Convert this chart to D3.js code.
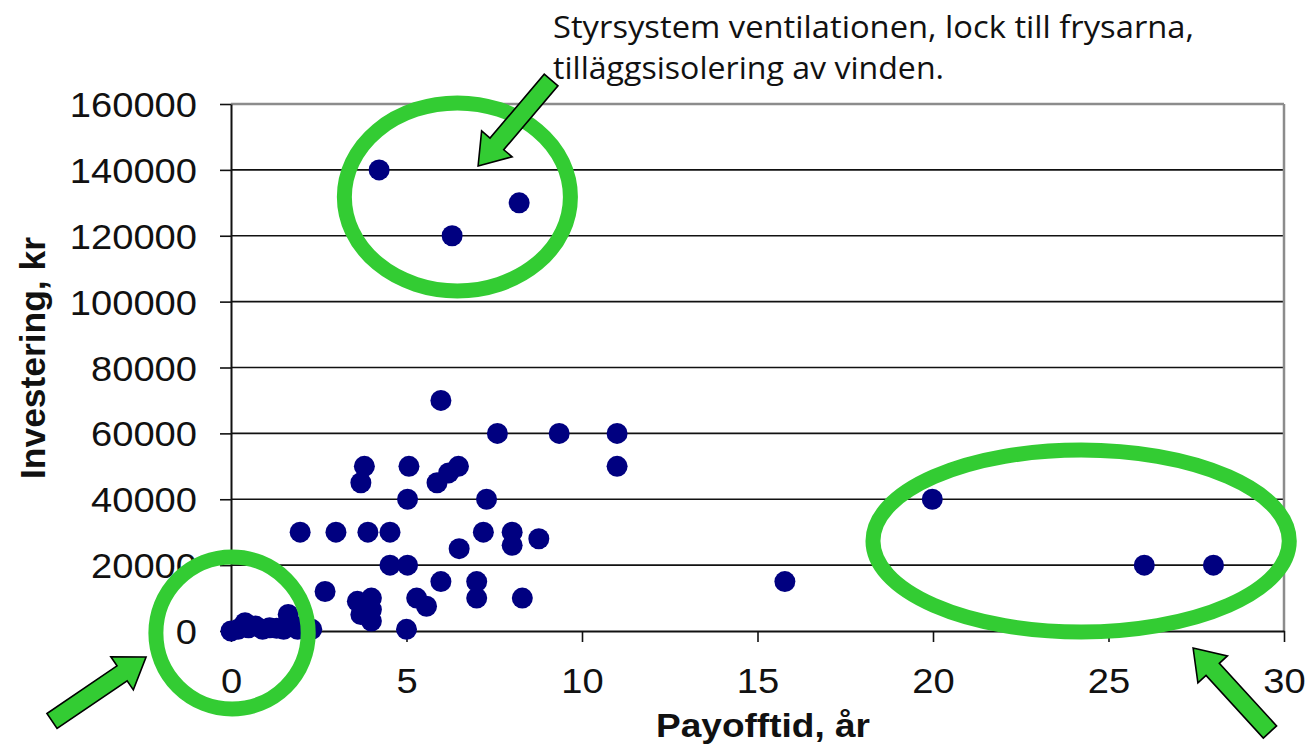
<!DOCTYPE html>
<html><head><meta charset="utf-8">
<script src="https://cdn.jsdelivr.net/npm/d3@7"></script>
<style>html,body{margin:0;padding:0;background:#fff;}</style>
</head><body>
<svg id="c" width="1305" height="746"></svg>
<script>
// ---- data ----
const payoff = [0,0.2,0.4,0.5,0.7,0.9,1.1,1.3,1.5,1.63,1.8,1.9,2.3,
  1.97,2.99,3.9,4.53,2.68,3.6,3.7,4.0,4.0,4.0,4.53,5.03,5.0,5.29,5.57,5.98,
  5.07,5.03,3.8,3.7,5.98,5.87,6.2,6.48,7.59,9.35,11.0,11.0,7.28,7.19,8.01,8.01,8.77,6.5,
  7.0,7.0,8.3,15.78,19.98,26.02,27.99,4.22,6.3,8.21];
const invest = [0,500,2500,1000,1500,500,1000,800,500,5000,1500,500,500,
  30000,30000,30000,30000,12000,9000,5000,10000,6500,3000,20000,20000,500,10000,7500,15000,
  50000,40000,50000,45000,70000,45000,48000,50000,60000,60000,60000,50000,40000,30000,30000,26000,28000,25000,
  15000,10000,10000,15000,40000,20000,20000,140000,120000,130000];
const xTicks = [0,5,10,15,20,25,30];
const yTicks = [0,20000,40000,60000,80000,100000,120000,140000,160000];
const xTitle = "Payofftid, år";
const yTitle = "Investering, kr";
const noteLines = ["Styrsystem ventilationen, lock till frysarna,", "tilläggsisolering av vinden."];
// annotation shapes in data units
const ellipseCx = [6.45, 0.03, 24.22];
const ellipseCy = [131800, -600, 27320];
const ellipseRx = [3.22, 2.17, 5.93];
const ellipseRy = [28540, 23070, 27630];
const arrowTipX = [7.04, -2.42, 27.41];
const arrowTipY = [141170, -7890, -5160];
const arrowTailX = [9.12, -5.10, 29.6];
const arrowTailY = [167280, -27320, -30660];

// ---- layout ----
const L = 231, R = 1284, T = 104, B = 631;
const svg = d3.select("#c");
const x = d3.scaleLinear().domain([0,30]).range([L,R]);
const y = d3.scaleLinear().domain([0,160000]).range([B,T]);
const font = "'Liberation Sans', Arial, sans-serif";

// gridlines
svg.append("g").selectAll("line").data(yTicks.filter(d=>d>0 && d<160000)).join("line")
  .attr("x1",L).attr("x2",R).attr("y1",d=>y(d)).attr("y2",d=>y(d))
  .attr("stroke","#111").attr("stroke-width",1.6);
// top and right border (gray)
svg.append("line").attr("x1",L).attr("x2",R).attr("y1",y(160000)).attr("y2",y(160000))
  .attr("stroke","#8c8c8c").attr("stroke-width",2.5);
svg.append("line").attr("x1",R).attr("x2",R).attr("y1",T).attr("y2",B)
  .attr("stroke","#8c8c8c").attr("stroke-width",2.5);

// axes
const xAxis = svg.append("g").attr("transform",`translate(0,${B})`)
  .call(d3.axisBottom(x).tickValues(xTicks).tickSize(11).tickSizeOuter(0).tickFormat(d3.format("d")));
const yAxis = svg.append("g").attr("transform",`translate(${L},0)`)
  .call(d3.axisLeft(y).tickValues(yTicks).tickSize(11).tickSizeOuter(0).tickFormat(d3.format("d")));
[xAxis,yAxis].forEach(a=>{
  a.select(".domain").attr("stroke","#111").attr("stroke-width",2);
  a.selectAll(".tick line").attr("stroke","#111").attr("stroke-width",1.6);
  a.selectAll(".tick text").attr("fill","#111").style("font-family",font).style("font-size","35px")
    .attr("textLength",d=>String(d).length*21.2).attr("lengthAdjust","spacingAndGlyphs");
});
xAxis.selectAll(".tick text").attr("dy",0).attr("y",62);
yAxis.selectAll(".tick text").attr("x",-34).attr("dy","0.36em");

// points
svg.append("g").selectAll("circle").data(payoff.map((p,i)=>[p,invest[i]])).join("circle")
  .attr("cx",d=>x(d[0])).attr("cy",d=>y(d[1])).attr("r",10.5).attr("fill","#000080");

// titles
svg.append("text").attr("x",763).attr("y",737).attr("text-anchor","middle")
  .style("font-family",font).style("font-size","34px").style("font-weight","bold").attr("fill","#111")
  .attr("textLength",214).attr("lengthAdjust","spacingAndGlyphs")
  .text(xTitle);
svg.append("text").attr("transform","translate(45,358) rotate(-90)").attr("text-anchor","middle")
  .style("font-family",font).style("font-size","35px").style("font-weight","bold").attr("fill","#111")
  .attr("textLength",242).attr("lengthAdjust","spacingAndGlyphs")
  .text(yTitle);

// annotation ellipses
const green = "#33cc33";
svg.append("g").selectAll("ellipse").data(ellipseCx.map((d,i)=>i)).join("ellipse")
  .attr("cx",i=>x(ellipseCx[i])).attr("cy",i=>y(ellipseCy[i]))
  .attr("rx",i=>x(ellipseRx[i])-x(0)).attr("ry",i=>y(0)-y(ellipseRy[i]))
  .attr("fill","none").attr("stroke",green).attr("stroke-width",15);

// arrows
function arrowPath(tx,ty,bx,by,w,hw,hl){
  const dx=bx-tx, dy=by-ty, len=Math.hypot(dx,dy);
  const ux=dx/len, uy=dy/len, nx=-uy, ny=ux;
  const hx=tx+ux*hl, hy=ty+uy*hl;
  const p=[[tx,ty],[hx+nx*hw,hy+ny*hw],[hx+nx*w,hy+ny*w],[bx+nx*w,by+ny*w],
           [bx-nx*w,by-ny*w],[hx-nx*w,hy-ny*w],[hx-nx*hw,hy-ny*hw]];
  return "M"+p.map(q=>q.join(",")).join("L")+"Z";
}
svg.append("g").selectAll("path").data(arrowTipX.map((d,i)=>i)).join("path")
  .attr("d",i=>arrowPath(x(arrowTipX[i]),y(arrowTipY[i]),x(arrowTailX[i]),y(arrowTailY[i]),9,20,29))
  .attr("fill",green).attr("stroke","#000").attr("stroke-width",1.6).attr("stroke-linejoin","miter");

// note text
const note = svg.append("text").style("font-family","'Open Sans', 'Noto Sans', sans-serif")
  .style("font-size","31px").attr("fill","#111");
note.append("tspan").attr("x",553).attr("y",38).attr("textLength",641).attr("lengthAdjust","spacingAndGlyphs").text(noteLines[0]);
note.append("tspan").attr("x",553).attr("y",79).attr("textLength",391).attr("lengthAdjust","spacingAndGlyphs").text(noteLines[1]);
</script>
</body></html>
